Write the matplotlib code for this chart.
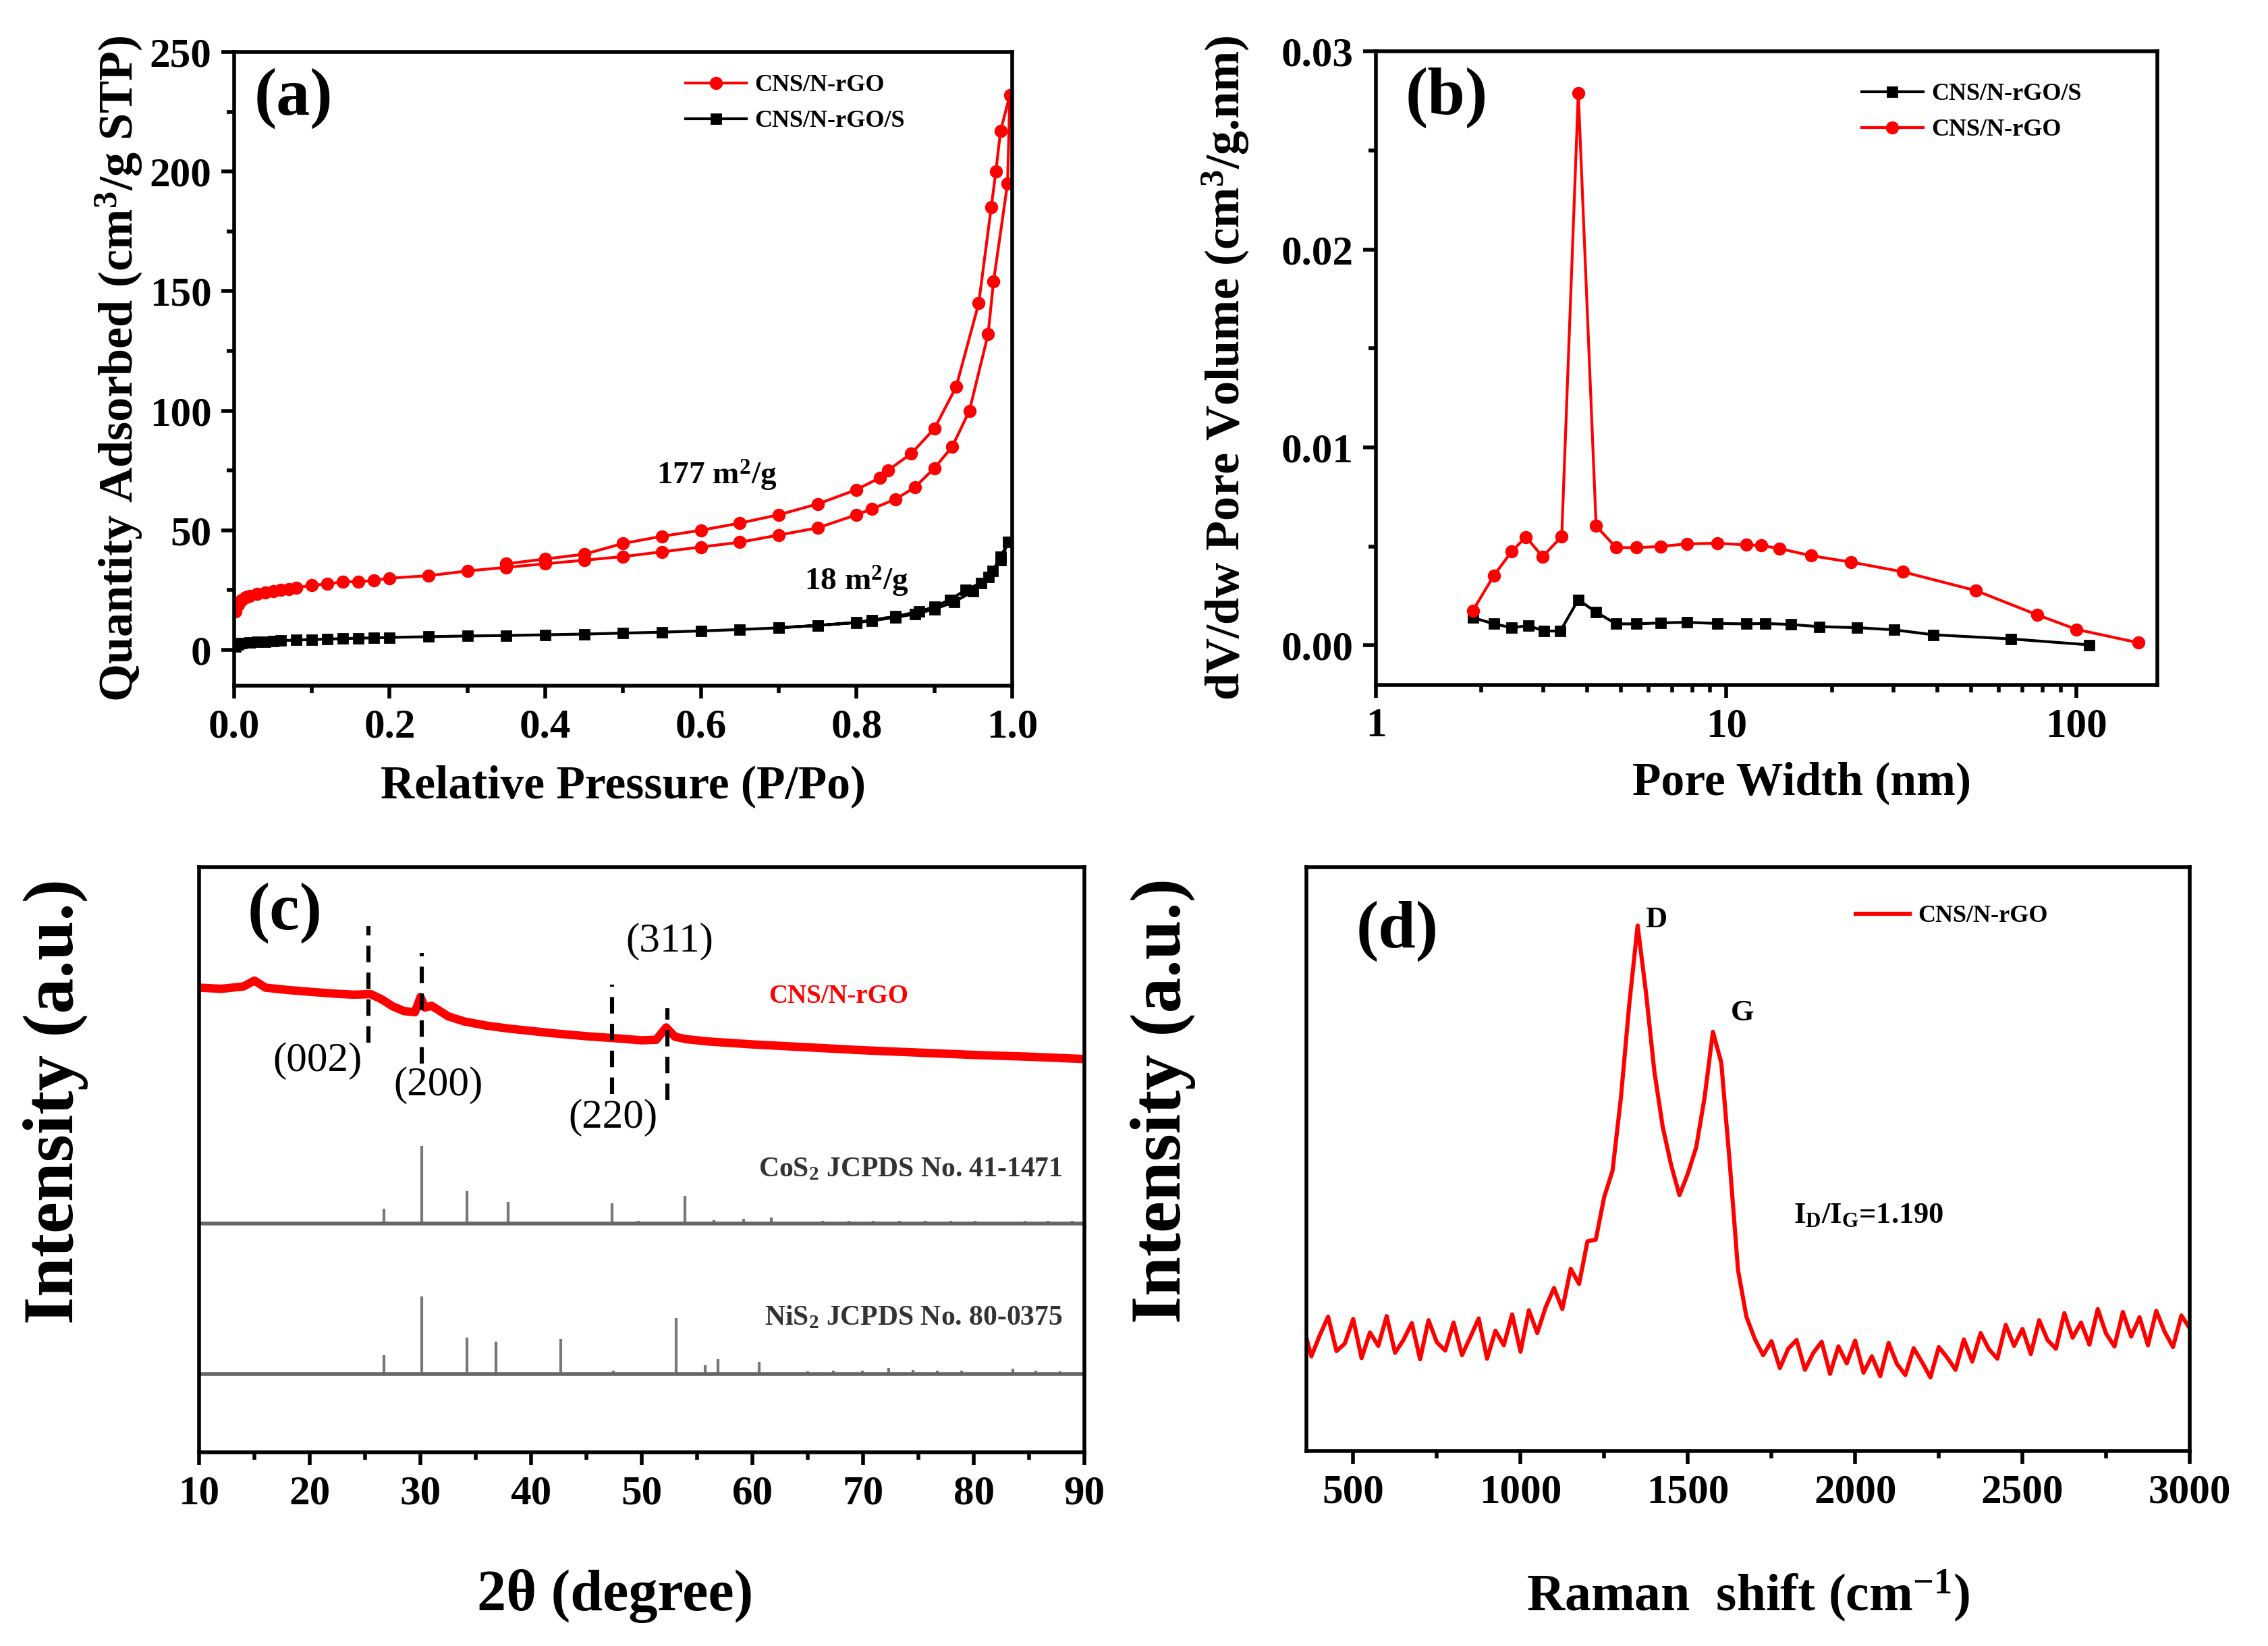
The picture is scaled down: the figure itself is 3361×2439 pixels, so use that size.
import numpy as np
import matplotlib
matplotlib.use('Agg')
import matplotlib.pyplot as plt
from matplotlib.ticker import MultipleLocator

plt.rcParams['font.family'] = ['Liberation Serif', 'DejaVu Serif']
plt.rcParams['font.weight'] = 'bold'
plt.rcParams['axes.labelweight'] = 'bold'
plt.rcParams['mathtext.fontset'] = 'custom'
plt.rcParams['mathtext.rm'] = 'Liberation Serif'
plt.rcParams['mathtext.bf'] = 'Liberation Serif:bold'
plt.rcParams['mathtext.it'] = 'Liberation Serif:italic'

# ---- (a) N2 isotherms ----
rgo_ads_p = [0.002, 0.005, 0.01, 0.015, 0.02, 0.03, 0.04, 0.05, 0.06, 0.07, 0.08, 0.1, 0.12, 0.14,
             0.16, 0.18, 0.2, 0.25, 0.3, 0.35, 0.4, 0.45, 0.5, 0.55, 0.6, 0.65, 0.7, 0.75, 0.8,
             0.82, 0.85, 0.875, 0.9, 0.923, 0.945, 0.969, 0.976, 0.994]
rgo_ads_q = [16, 19, 21, 22, 22.5, 23.5, 24, 24.5, 25, 25.5, 26, 27, 27.5, 28.5,
             28.5, 29, 30, 31, 33, 34.5, 36, 37.5, 39, 41, 43, 45, 48, 51, 56.5,
             59, 63, 68, 76, 85, 100, 132, 154, 195]
rgo_des_p = [0.997, 0.985, 0.979, 0.973, 0.957, 0.928, 0.90, 0.87, 0.84, 0.83, 0.80, 0.75,
             0.70, 0.65, 0.60, 0.55, 0.50, 0.45, 0.40, 0.35]
rgo_des_q = [232, 217, 200, 185, 145, 110, 92.5, 82, 75, 72, 67, 61,
             56.5, 53, 50, 47.5, 44.5, 40, 38, 36]

rgos_ads_p = [0.002, 0.005, 0.01, 0.02, 0.03, 0.04, 0.05, 0.06, 0.08, 0.1, 0.12, 0.14, 0.16, 0.18,
              0.2, 0.25, 0.3, 0.35, 0.4, 0.45, 0.5, 0.55, 0.6, 0.65, 0.7, 0.75, 0.8, 0.82,
              0.85, 0.875, 0.9, 0.925, 0.95, 0.97, 0.985, 0.995]
rgos_ads_q = [1.5, 2.2, 2.8, 3.1, 3.3, 3.5, 3.7, 3.9, 4.1, 4.3, 4.5, 4.7, 4.9, 5.0,
              5.2, 5.5, 5.8, 6.0, 6.3, 6.6, 7.0, 7.4, 7.9, 8.5, 9.2, 10.2, 11.4, 12.2,
              13.6, 15.0, 17.0, 20.0, 24.5, 30.5, 37.5, 45]
rgos_des_p = [0.985, 0.975, 0.96, 0.94, 0.92, 0.90, 0.88, 0.85, 0.82, 0.80, 0.75, 0.70]
rgos_des_q = [39, 33, 28, 25, 21, 18, 16, 14, 12.5, 11.5, 10.2, 9.3]

# ---- (b) pore size distribution ----
pw_rgo = [1.89, 2.17, 2.44, 2.68, 2.99, 3.39, 3.78, 4.25, 4.85, 5.55, 6.49, 7.72, 9.41,
          11.4, 12.6, 14.2, 17.5, 22.7, 31.9, 51.6, 77.1, 100, 150]
dv_rgo = [0.00176, 0.00353, 0.00475, 0.00548, 0.00448, 0.00551, 0.0279, 0.00603, 0.00494,
          0.00494, 0.0050, 0.00513, 0.00516, 0.00508, 0.00505, 0.00489, 0.00453, 0.00421,
          0.00372, 0.00277, 0.00155, 0.00081, 0.00014]
pw_rgos = [1.89, 2.17, 2.44, 2.72, 3.02, 3.36, 3.78, 4.25, 4.85, 5.55, 6.49, 7.72, 9.41,
           11.4, 12.9, 15.3, 18.4, 23.6, 30.1, 39.0, 65.0, 108.8]
dv_rgos = [0.00141, 0.00109, 0.0009, 0.0010, 0.00073, 0.00073, 0.00231, 0.00168, 0.00109,
           0.00109, 0.00114, 0.00117, 0.00111, 0.00109, 0.00111, 0.00106, 0.00095, 0.0009,
           0.00079, 0.00054, 0.00033, 0.00003]

# ---- (c) XRD ----
xrd_2theta = [10, 12, 14, 15, 16, 18, 20, 22, 24, 25.5, 26.5, 27.5, 28.5, 29.5, 30.0, 30.4, 31.0,
              31.6, 32.5, 34, 36, 38, 40, 42, 45, 48, 50, 51.3, 52.2, 53.0, 54, 56, 60, 65,
              70, 75, 80, 85, 90]
xrd_int = [79.4, 79.2, 79.6, 80.6, 79.4, 79.0, 78.7, 78.4, 78.2, 78.3, 77.4, 76.2, 75.4, 75.2,
           77.8, 76.0, 76.3, 75.6, 74.5, 73.6, 72.9, 72.4, 72.0, 71.6, 71.1, 70.7, 70.4, 70.5,
           72.6, 71.0, 70.6, 70.2, 69.7, 69.2, 68.7, 68.3, 67.9, 67.6, 67.2]
cos2_pos = [26.7, 30.1, 34.2, 37.9, 47.3, 49.7, 53.9, 56.5, 59.2, 61.7, 66.3, 68.7, 70.9,
            73.3, 75.6, 77.9, 80.1, 84.6, 86.7, 88.9]
cos2_h = [2.5, 13.2, 5.5, 3.7, 3.5, 0.5, 4.7, 0.6, 0.8, 1.0, 0.4, 0.4, 0.4,
          0.5, 0.4, 0.5, 0.4, 0.5, 0.4, 0.4]
nis2_pos = [26.7, 30.1, 34.2, 36.8, 42.7, 47.4, 53.1, 55.7, 56.9, 60.6, 65.0, 67.3, 69.9,
            72.3, 74.5, 76.7, 78.9, 83.5, 85.6, 87.8]
nis2_h = [3.2, 13.2, 6.2, 5.5, 6.0, 0.5, 9.5, 1.5, 2.5, 2.0, 0.4, 0.5, 0.5,
          1.0, 0.7, 0.6, 0.5, 0.9, 0.5, 0.4]
cos2_base = 39.1
nis2_base = 13.4
hkl_pos = [25.3, 30.1, 47.3, 52.3]
hkl_span = [(70, 90), (66.4, 85.3), (61.2, 79.9), (60.2, 75.9)]
hkl_labels = ['(002)', '(200)', '(220)', '(311)']
hkl_text_xy = [(20.7, 66.9), (31.6, 62.7), (47.4, 57.2), (52.5, 87.3)]

# ---- (d) Raman ----
raman_shift = np.arange(350, 3001, 25)
raman_int = [21.5, 16.2, 19.8, 23.0, 17.1, 18.4, 22.6, 15.9, 20.3, 18.0,
             23.1, 16.8, 19.0, 21.9, 15.7, 22.4, 18.6, 17.2, 22.0, 16.4,
             19.5, 22.7, 15.8, 20.6, 18.1, 23.4, 17.0, 24.1, 20.2, 24.6,
             27.9, 24.3, 31.2, 28.6, 35.9, 36.2, 43.5, 48.0, 60.5, 76.5,
             90.0, 78.5, 65.0, 55.5, 49.0, 43.8, 47.5, 52.0, 60.5, 71.8,
             66.5, 49.5, 31.0, 23.0, 19.2, 16.4, 18.8, 14.2, 17.5, 19.0,
             13.9, 16.8, 18.7, 13.2, 17.9, 15.0, 18.9, 13.4, 16.2, 12.8,
             18.5, 14.9, 13.0, 17.6, 15.2, 12.6, 17.8, 16.0, 13.9, 19.1,
             15.3, 20.2, 17.4, 15.8, 21.6, 18.0, 20.9, 16.6, 22.4, 19.0,
             17.5, 23.6, 19.4, 22.0, 18.2, 24.3, 20.1, 17.9, 23.8, 19.6,
             22.9, 18.1, 24.0, 20.4, 17.8, 23.2, 21.0]

fig = plt.figure(figsize=(16.805, 12.195), dpi=200)
ax_a = fig.add_axes([0.1032, 0.5834, 0.3431, 0.3850])
ax_b = fig.add_axes([0.6067, 0.5838, 0.3445, 0.3850])
ax_c = fig.add_axes([0.0878, 0.1177, 0.3904, 0.3555])
ax_d = fig.add_axes([0.5760, 0.1185, 0.3895, 0.3547])

for ax in (ax_a, ax_b, ax_c, ax_d):
    for s in ax.spines.values():
        s.set_linewidth(2.0)
    ax.tick_params(which='both', direction='out', top=False, right=False, width=2.0,
                   labelsize=22, pad=5)
    ax.tick_params(which='major', length=7)
    ax.tick_params(which='minor', length=4)

# (a)
ax_a.plot(rgo_ads_p + rgo_des_p, rgo_ads_q + rgo_des_q, color='red', marker='o', ms=6,
          lw=1.5, label='CNS/N-rGO')
ax_a.plot(rgos_ads_p + rgos_des_p, rgos_ads_q + rgos_des_q, color='black', marker='s', ms=5,
          lw=1.5, label='CNS/N-rGO/S')
ax_a.set_xlim(0, 1.0)
ax_a.set_ylim(-15, 250)
ax_a.xaxis.set_major_locator(MultipleLocator(0.2))
ax_a.xaxis.set_minor_locator(MultipleLocator(0.1))
ax_a.yaxis.set_major_locator(MultipleLocator(50))
ax_a.yaxis.set_minor_locator(MultipleLocator(25))
ax_a.set_xlabel('Relative Pressure (P/Po)', fontsize=25)
ax_a.set_ylabel('Quantity Adsorbed (cm$^\\mathbf{3}$/g STP)', fontsize=26)
ax_a.xaxis.set_label_coords(0.5, -0.125)
ax_a.yaxis.set_label_coords(-0.115, 0.5)
ax_a.text(0.076, 0.927, '(a)', transform=ax_a.transAxes, fontsize=36, ha='center', va='center')
ax_a.text(0.62, 73, '177 m$^\\mathbf{2}$/g', fontsize=17, ha='center', va='center')
ax_a.text(0.80, 28.5, '18 m$^\\mathbf{2}$/g', fontsize=17, ha='center', va='center')
ax_a.legend(loc='upper left', bbox_to_anchor=(0.58, 0.965), frameon=False, fontsize=13,
            handlelength=2.5, handletextpad=0.35, labelspacing=0.55, borderpad=0,
            borderaxespad=0, numpoints=1)

# (b)
ax_b.plot(pw_rgos, dv_rgos, color='black', marker='s', ms=5, lw=1.5, label='CNS/N-rGO/S')
ax_b.plot(pw_rgo, dv_rgo, color='red', marker='o', ms=6, lw=1.5, label='CNS/N-rGO')
ax_b.set_xscale('log')
ax_b.set_xlim(1, 170)
ax_b.set_ylim(-0.002, 0.03)
ax_b.set_xticks([1, 10, 100])
ax_b.set_xticklabels(['1', '10', '100'])
ax_b.yaxis.set_minor_locator(MultipleLocator(0.005))
ax_b.set_yticks([0, 0.01, 0.02, 0.03])
ax_b.set_yticklabels(['0.00', '0.01', '0.02', '0.03'])
ax_b.set_xlabel('Pore Width (nm)', fontsize=25)
ax_b.set_ylabel('dV/dw Pore Volume (cm$^\\mathbf{3}$/g.nm)', fontsize=26)
ax_b.xaxis.set_label_coords(0.545, -0.12)
ax_b.yaxis.set_label_coords(-0.16, 0.5)
ax_b.text(0.09, 0.927, '(b)', transform=ax_b.transAxes, fontsize=36, ha='center', va='center')
ax_b.legend(loc='upper left', bbox_to_anchor=(0.622, 0.95), frameon=False, fontsize=13,
            handlelength=2.5, handletextpad=0.35, labelspacing=0.55, borderpad=0,
            borderaxespad=0, numpoints=1)

# (c)
ax_c.plot(xrd_2theta, xrd_int, color='red', lw=4.5, solid_capstyle='butt')
ax_c.vlines(cos2_pos, cos2_base, [cos2_base + h for h in cos2_h], color='#777777', lw=1.5)
ax_c.vlines(nis2_pos, nis2_base, [nis2_base + h for h in nis2_h], color='#777777', lw=1.5)
ax_c.axhline(cos2_base, color='#666666', lw=2)
ax_c.axhline(nis2_base, color='#666666', lw=2)
for pos, (y0, y1) in zip(hkl_pos, hkl_span):
    ax_c.plot([pos, pos], [y0, y1], color='black', lw=2.2, ls=(0, (4, 2.5)))
for lab, (tx, ty) in zip(hkl_labels, hkl_text_xy):
    ax_c.text(tx, ty, lab, fontsize=22, fontweight='normal', ha='center', va='center')
ax_c.text(67.8, 77.9, 'CNS/N-rGO', color='red', fontsize=14, ha='center', va='center')
ax_c.text(88, 48.3, 'CoS$_\\mathbf{2}$ JCPDS No. 41-1471', color='#333333', fontsize=15,
          ha='right', va='center')
ax_c.text(88, 22.9, 'NiS$_\\mathbf{2}$ JCPDS No. 80-0375', color='#333333', fontsize=15,
          ha='right', va='center')
ax_c.set_xlim(10, 90)
ax_c.set_ylim(0, 100)
ax_c.set_yticks([])
ax_c.xaxis.set_major_locator(MultipleLocator(10))
ax_c.xaxis.set_minor_locator(MultipleLocator(5))
ax_c.set_xlabel('2θ (degree)', fontsize=31)
ax_c.set_ylabel('Intensity (a.u.)', fontsize=38)
ax_c.xaxis.set_label_coords(0.47, -0.2)
ax_c.yaxis.set_label_coords(-0.125, 0.6)
ax_c.text(0.097, 0.922, '(c)', transform=ax_c.transAxes, fontsize=36, ha='center', va='center')

# (d)
ax_d.plot(raman_shift, raman_int, color='red', lw=2.2, label='CNS/N-rGO')
ax_d.set_xlim(360, 3000)
ax_d.set_ylim(0, 100)
ax_d.set_yticks([])
ax_d.xaxis.set_major_locator(MultipleLocator(500))
ax_d.xaxis.set_minor_locator(MultipleLocator(250))
ax_d.set_xlabel('Raman  shift (cm$^{\\mathbf{-1}}$)', fontsize=28)
ax_d.set_ylabel('Intensity (a.u.)', fontsize=38)
ax_d.xaxis.set_label_coords(0.5, -0.2)
ax_d.yaxis.set_label_coords(-0.125, 0.6)
ax_d.text(0.103, 0.89, '(d)', transform=ax_d.transAxes, fontsize=36, ha='center', va='center')
ax_d.text(1405, 91, 'D', fontsize=16, ha='center', va='center')
ax_d.text(1664, 75, 'G', fontsize=16, ha='center', va='center')
ax_d.text(1816, 40.3, 'I$_\\mathrm{D}$/I$_\\mathrm{G}$=1.190', fontsize=16, ha='left', va='center')
ax_d.legend(loc='upper left', bbox_to_anchor=(0.622, 0.935), frameon=False, fontsize=13,
            handlelength=2.2, handletextpad=0.35, borderpad=0, borderaxespad=0)

fig.savefig('out.png', dpi=200, facecolor='white')
